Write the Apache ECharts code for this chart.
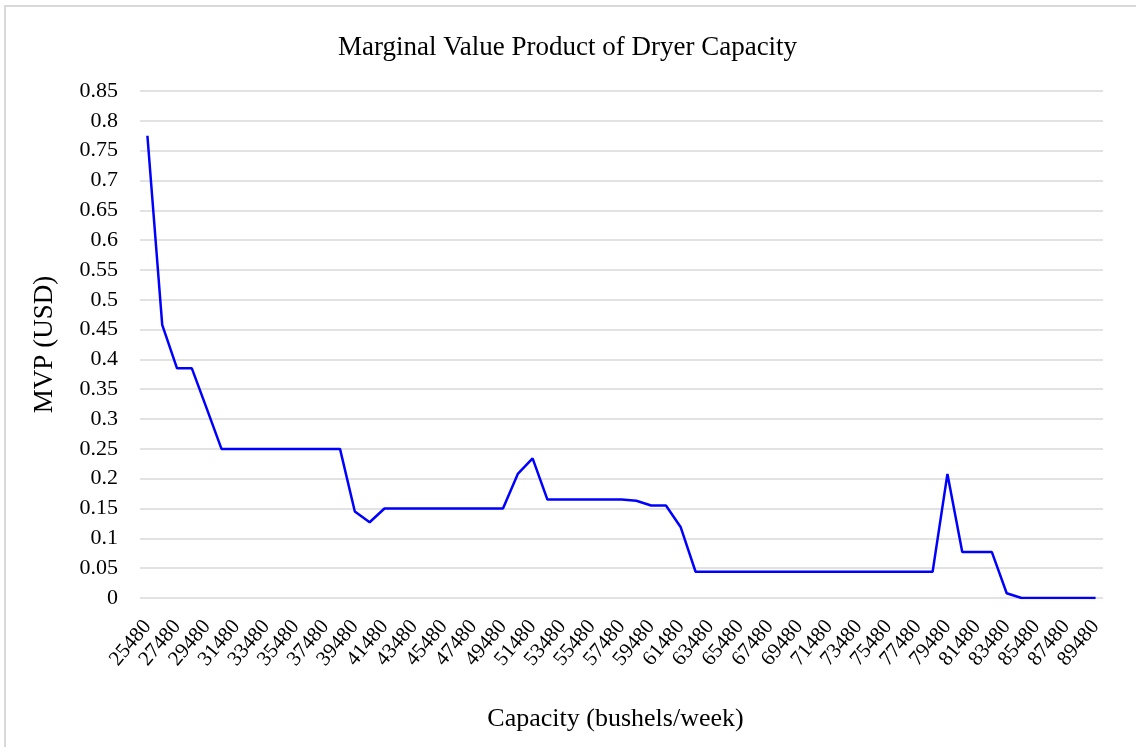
<!DOCTYPE html>
<html lang="en">
<head>
    <meta charset="UTF-8">
    <title>Marginal Value Product of Dryer Capacity</title>
    <script src="https://cdn.jsdelivr.net/npm/echarts@6/dist/echarts.min.js"></script>
    <style>
        html, body { margin: 0; padding: 0; background: #fff; overflow: hidden; }
        #frame { position: absolute; left: 4px; top: 5px; width: 1140px; height: 760px;
                 border-top: 2px solid #d9d9d9; border-left: 2px solid #d9d9d9; }
        #main { position: absolute; left: 0; top: 0; width: 1136px; height: 747px; }
    </style>
</head>
<body>
    <div id="frame"></div>
    <div id="main"></div>
    <script>
        // capacity steps of 1000 bushels/week, 25480 .. 89480
        const capacities = [];
        for (let c = 25480; c <= 89480; c += 1000) capacities.push(String(c));

        // MVP
        const mvp = [
            0.775, 0.458, 0.385, 0.385, 0.318, 0.25, 0.25, 0.25, 0.25, 0.25,
            0.25, 0.25, 0.25, 0.25, 0.145, 0.127, 0.15, 0.15, 0.15, 0.15,
            0.15, 0.15, 0.15, 0.15, 0.15, 0.208, 0.234, 0.165, 0.165, 0.165,
            0.165, 0.165, 0.165, 0.163, 0.155, 0.155, 0.1185, 0.044, 0.044, 0.044,
            0.044, 0.044, 0.044, 0.044, 0.044, 0.044, 0.044, 0.044, 0.044, 0.044,
            0.044, 0.044, 0.044, 0.044, 0.208, 0.077, 0.077, 0.077, 0.008, 0,
            0, 0, 0, 0, 0
        ];

        const font = '"Liberation Serif", "Times New Roman", serif';

        const chart = echarts.init(document.getElementById('main'));
        chart.setOption({
            animation: false,
            textStyle: { fontFamily: font },
            title: {
                text: 'Marginal Value Product of Dryer Capacity',
                left: 333,
                top: 29,
                textStyle: { fontFamily: font, fontSize: 27, fontWeight: 'normal', color: '#000' }
            },
            grid: { left: 140, right: 33, top: 91, bottom: 149 },
            xAxis: {
                type: 'category',
                data: capacities,
                boundaryGap: true,
                name: 'Capacity (bushels/week)',
                nameLocation: 'middle',
                nameGap: 108,
                nameTextStyle: { fontFamily: font, fontSize: 26, color: '#000', padding: [0, 12, 0, 0] },
                axisLine: { show: false },
                axisTick: { show: false },
                axisLabel: {
                    interval: 1,
                    rotate: 50,
                    margin: 25,
                    fontFamily: font,
                    fontSize: 21,
                    color: '#000'
                }
            },
            yAxis: {
                type: 'value',
                min: 0,
                max: 0.85,
                interval: 0.05,
                name: 'MVP (USD)',
                nameLocation: 'middle',
                nameGap: 82,
                nameTextStyle: { fontFamily: font, fontSize: 27, color: '#000' },
                axisLine: { show: false },
                axisTick: { show: false },
                axisLabel: {
                    margin: 22,
                    fontFamily: font,
                    fontSize: 22,
                    color: '#000',
                    formatter: v => String(Math.round(v * 100) / 100)
                },
                splitLine: { lineStyle: { color: '#d9d9d9', width: 1.5 } }
            },
            series: [{
                type: 'line',
                data: mvp,
                showSymbol: false,
                lineStyle: { color: '#0000ff', width: 2.5 }
            }]
        });
    </script>
</body>
</html>
